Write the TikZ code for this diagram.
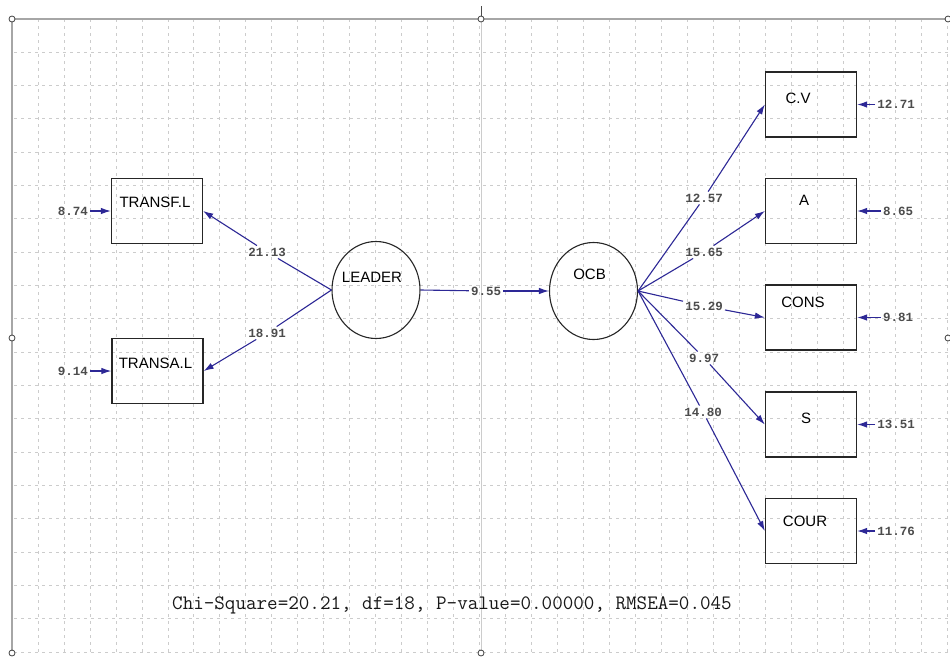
\documentclass[tikz,border=0pt]{standalone}
\usepackage{fontspec}
\setmainfont{Liberation Sans}
\newfontfamily\numfont{Liberation Mono}
\usetikzlibrary{arrows.meta,shapes.geometric}
\definecolor{arrowblue}{RGB}{45,40,150}
\begin{document}
\begin{tikzpicture}[x=1pt,y=-1pt,
  gridline/.style={draw=gray!40, line width=0.7pt, dash pattern=on 3pt off 4pt},
  lat/.style={draw=black!85, line width=1.1pt, ellipse, minimum width=88pt, minimum height=97pt, inner sep=0pt},
  obs/.style={draw=black!85, line width=1.3pt, rectangle, minimum width=91pt, minimum height=65pt, inner sep=0pt},
  conn/.style={draw=arrowblue, line width=1.1pt},
  arrowed/.style={-{Latex[length=10pt,width=6.5pt]}},
  coef/.style={font=\numfont\bfseries\fontsize{12.5}{14}\selectfont, text=black!70, inner sep=2pt},
  handle/.style={circle, draw=black!75, fill=white, line width=0.8pt, minimum size=6pt, inner sep=0pt},
  every label/.style={font=\fontsize{15}{17}\selectfont, inner sep=0pt}
]
\useasboundingbox (0,0) rectangle (950,656);
\fill[white] (0,0) rectangle (950,656);
% grid
\foreach \k in {0,...,35} \draw[gridline] ({38+25.97*\k},19) -- ({38+25.97*\k},652);
\foreach \k in {0,...,18} \draw[gridline] (14,{52+33.33*\k}) -- (948,{52+33.33*\k});
\draw[gray!40, line width=1pt] (481,19) -- (481,652);
% frame
\draw[gray!70, line width=2.2pt] (12,652) -- (12,19) -- (948,19);
\draw[black!70, line width=1pt] (481,6) -- (481,19);
\node[handle] (h1) at (12,19) {};
\node[handle] (h2) at (481,19) {};
\node[handle] (h3) at (948,19) {};
\node[handle] (h4) at (12,338) {};
\node[handle] (h5) at (948,338) {};
\node[handle] (h6) at (12,653) {};
\node[handle] (h7) at (481,653) {};

% latent variables
\node[lat, label={[xshift=-4pt,yshift=13pt]center:LEADER}] (leader) at (376,290) {};
\node[lat, label={[xshift=-4pt,yshift=17pt]center:OCB}] (ocb) at (593.5,291) {};

% observed variables
\node[obs, label={[xshift=-2pt,yshift=9pt]center:TRANSF.L}] (transf) at (157,211) {};
\node[obs, label={[xshift=-2pt,yshift=8pt]center:TRANSA.L}] (transa) at (157.5,371) {};
\node[obs, label={[xshift=-13pt,yshift=6.5pt]center:C.V}] (cv) at (811,104.5) {};
\node[obs, label={[xshift=-7pt,yshift=11pt]center:A}] (a) at (811,211) {};
\node[obs, label={[xshift=-8pt,yshift=15pt]center:CONS}] (cons) at (811,317.5) {};
\node[obs, label={[xshift=-5pt,yshift=6.5pt]center:S}] (s) at (811,424.5) {};
\node[obs, label={[xshift=-6pt,yshift=10pt]center:COUR}] (cour) at (811,531) {};

% coefficient labels
\node[coef] (c1) at (267,252) {21.13};
\node[coef] (c2) at (267,333) {18.91};
\node[coef] (c9) at (486,291) {9.55};
\node[coef] (c3) at (704,198) {12.57};
\node[coef] (c4) at (704,252) {15.65};
\node[coef] (c5) at (704,306) {15.29};
\node[coef] (c6) at (704,358) {9.97};
\node[coef] (c7) at (703,412) {14.80};

% error labels
\node[coef] (e1) at (73,211) {8.74};
\node[coef] (e2) at (73,371) {9.14};
\node[coef] (e3) at (896,104.5) {12.71};
\node[coef] (e4) at (898,211) {8.65};
\node[coef] (e5) at (898,317.5) {9.81};
\node[coef] (e6) at (896,424.5) {13.51};
\node[coef] (e7) at (896,531) {11.76};

% paths
\draw[conn] (leader.west) -- (c1);
\draw[conn,arrowed] (c1) -- (transf.east);
\draw[conn] (leader.west) -- (c2);
\draw[conn,arrowed] (c2) -- (transa.east);
\draw[conn] (leader.east) -- (c9);
\draw[conn,arrowed] (c9) -- (ocb.west);
\draw[conn] (ocb.east) -- (c3);
\draw[conn,arrowed] (c3) -- (cv.west);
\draw[conn] (ocb.east) -- (c4);
\draw[conn,arrowed] (c4) -- (a.west);
\draw[conn] (ocb.east) -- (c5);
\draw[conn,arrowed] (c5) -- (cons.west);
\draw[conn] (ocb.east) -- (c6);
\draw[conn,arrowed] (c6) -- (s.west);
\draw[conn] (ocb.east) -- (c7);
\draw[conn,arrowed] (c7) -- (cour.west);

% error arrows
\draw[conn,arrowed] (e1) -- (transf);
\draw[conn,arrowed] (e2) -- (transa);
\draw[conn,arrowed] (e3) -- (cv);
\draw[conn,arrowed] (e4) -- (a);
\draw[conn,arrowed] (e5) -- (cons);
\draw[conn,arrowed] (e6) -- (s);
\draw[conn,arrowed] (e7) -- (cour);

% fit statistics
\node[anchor=west, inner sep=0pt, font=\ttfamily\fontsize{20.5}{24}\selectfont, text=black!90] (fit) at (172,605) {Chi-Square=20.21, df=18, P-value=0.00000, RMSEA=0.045};
\end{tikzpicture}
\end{document}
